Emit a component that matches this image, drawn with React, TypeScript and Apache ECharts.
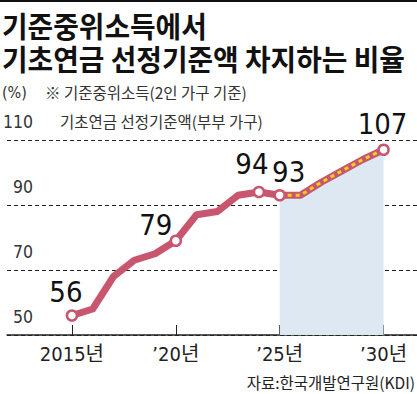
import React, { useEffect, useRef } from 'react';
import * as echarts from 'echarts';

const actualYears = [2015, 2016, 2017, 2018, 2019, 2020, 2021, 2022, 2023, 2024, 2025];
const actualValues = [56, 58, 68, 73, 75, 79, 87, 88, 93, 94, 93];
const forecastYears = [2025, 2026, 2027, 2028, 2029, 2030];
const forecastValues = [93, 93, 97, 100.5, 104, 107];
const markedYears = [2015, 2020, 2024, 2025, 2030];
const markedValues = [56, 79, 94, 93, 107];
const xTickYears = [2015, 2020, 2025, 2030];
const xTickLabels = ['2015년', '’20년', '’25년', '’30년'];

const titleLines = ['기준중위소득에서', '기초연금 선정기준액 차지하는 비율'];
const unitText = '(%)';
const noteLines = ['※ 기준중위소득(2인 가구 기준)', '기초연금 선정기준액(부부 가구)'];
const forecastText = '전망';
const sourceText = '자료:한국개발연구원(KDI)';

const labelOffsets = [[-6, -24], [-20, -16], [-7, -28], [9, -23], [-1, -26]];

const PINK = '#c8566e';
const YELLOW = '#f6d015';
const NARROW = "'Liberation Sans Narrow', 'DejaVu Sans Condensed', 'Noto Sans CJK KR', sans-serif";
const KR = "'Noto Sans CJK KR', 'Noto Sans', sans-serif";

export default function App() {
  const ref = useRef<HTMLDivElement>(null);
  useEffect(() => {
    if (!ref.current) return;
    const chart = echarts.init(ref.current, undefined, { renderer: 'svg' });
    chart.setOption({
      animation: false,
      backgroundColor: '#fff',
      grid: { left: 0, right: 0, top: 140, bottom: 59 },
      xAxis: {
        type: 'value',
        min: 2011.877,
        max: 2031.609,
        splitLine: { show: false },
        axisLine: { show: true, onZero: false, lineStyle: { color: '#222', width: 1.5 } },
        axisTick: {
          show: true,
          inside: true,
          length: 10,
          customValues: xTickYears,
          lineStyle: { color: '#222', width: 1 },
        },
        axisLabel: {
          customValues: xTickYears,
          formatter: (v: number) => xTickLabels[xTickYears.indexOf(v)] ?? '',
          fontSize: 20,
          fontFamily: NARROW,
          color: '#222',
          margin: 9,
        },
      },
      yAxis: {
        type: 'value',
        min: 50,
        max: 110,
        interval: 20,
        axisLine: { show: false },
        axisTick: { show: false },
        splitLine: { show: true, lineStyle: { type: [4, 3], color: '#222', width: 1 } },
        axisLabel: {
          inside: true,
          align: 'right',
          verticalAlign: 'bottom',
          margin: 26,
          padding: [0, 0, 9, 0],
          fontSize: 17.5,
          fontFamily: NARROW,
          color: '#333',
        },
      },
      series: [
        {
          type: 'line',
          data: forecastYears.map((y, i) => [y, forecastValues[i]]),
          symbol: 'none',
          lineStyle: { color: PINK, width: 7, join: 'round', cap: 'round' },
          areaStyle: { color: '#dde8f2', opacity: 1, origin: 'start' },
          z: 1,
        },
        {
          type: 'line',
          data: actualYears.map((y, i) => [y, actualValues[i]]),
          symbol: 'none',
          lineStyle: { color: PINK, width: 7, join: 'round', cap: 'round' },
          z: 2,
        },
        {
          type: 'line',
          data: forecastYears.map((y, i) => [y, forecastValues[i]]),
          symbol: 'none',
          lineStyle: { color: YELLOW, width: 3, type: [4, 4] },
          z: 3,
        },
        {
          type: 'scatter',
          data: markedYears.map((y, i) => ({
            value: [y, markedValues[i]],
            label: { offset: labelOffsets[i] },
          })),
          symbol: 'circle',
          symbolSize: 10,
          itemStyle: { color: '#fff', borderColor: PINK, borderWidth: 2.5, opacity: 1 },
          label: {
            show: true,
            position: 'inside',
            formatter: (p: any) => String(p.value[1]),
            fontSize: 29,
            fontFamily: NARROW,
            color: '#111',
          },
          z: 4,
        },
      ],
      graphic: [
        { type: 'rect', shape: { x: 0, y: 0, width: 417, height: 2 }, style: { fill: '#111' } },
        {
          type: 'text', x: 2, y: 25, scaleX: 0.96,
          style: { text: titleLines[0], font: `bold 29px ${KR}`, fill: '#111', verticalAlign: 'middle' },
        },
        {
          type: 'text', x: 2, y: 58, scaleX: 0.96,
          style: { text: titleLines[1], font: `bold 29px ${KR}`, fill: '#111', verticalAlign: 'middle' },
        },
        {
          type: 'text', x: 2, y: 92,
          style: { text: unitText, font: `16px ${NARROW}`, fill: '#333', verticalAlign: 'middle' },
        },
        {
          type: 'text', x: 45, y: 92,
          style: { text: noteLines[0], font: `15.5px ${KR}`, fill: '#333', verticalAlign: 'middle' },
        },
        {
          type: 'text', x: 60, y: 121,
          style: { text: noteLines[1], font: `15.5px ${KR}`, fill: '#333', verticalAlign: 'middle' },
        },
        {
          type: 'text', x: 331, y: 243,
          style: { text: forecastText, font: `500 19px ${KR}`, fill: '#222', align: 'center', verticalAlign: 'middle' },
        },
        {
          type: 'text', x: 415, y: 382,
          style: { text: sourceText, font: `15.5px ${KR}`, fill: '#222', align: 'right', verticalAlign: 'middle' },
        },
      ],
    });
    return () => chart.dispose();
  }, []);
  return <div ref={ref} style={{ position: 'fixed', left: 0, top: 0, width: 417, height: 394 }} />;
}
